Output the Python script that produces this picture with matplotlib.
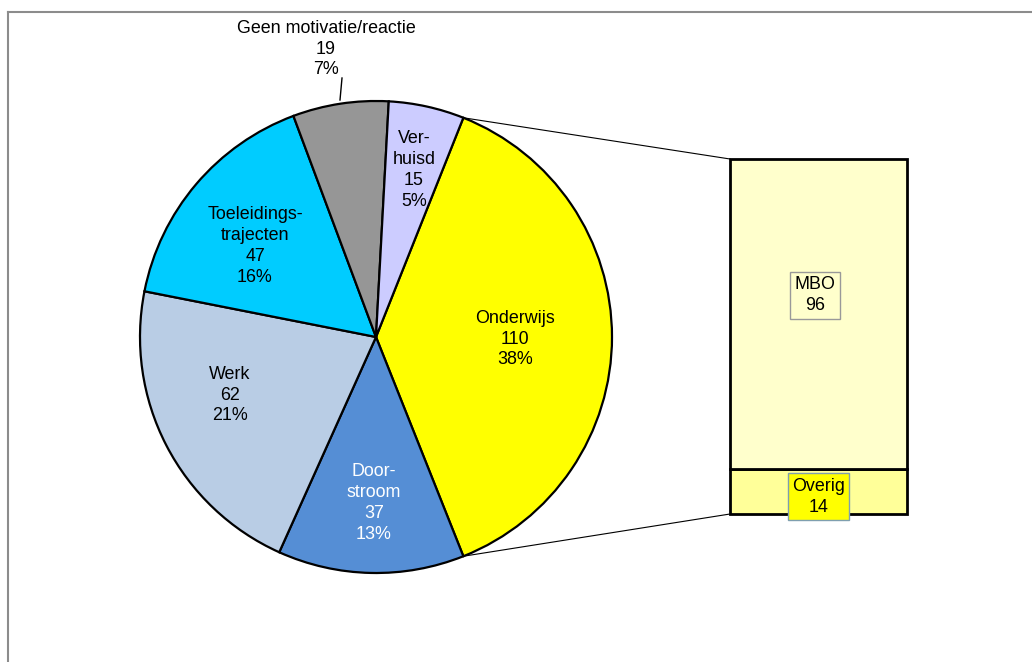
import matplotlib
matplotlib.use("Agg")
import matplotlib.pyplot as plt
from matplotlib.lines import Line2D
import numpy as np

plt.rcParams['font.family'] = ['Liberation Sans', 'DejaVu Sans']

# ---- data ----
pie_labels = ["Onderwijs", "Door-\nstroom", "Werk", "Toeleidings-\ntrajecten",
              "Geen motivatie/reactie", "Ver-\nhuisd"]
pie_values = [110, 37, 62, 47, 19, 15]
pie_colors = ["#FFFF00", "#558ED5", "#B9CDE5", "#00CCFF", "#969696", "#CCCCFF"]
bar_labels = ["Overig", "MBO"]
bar_values = [14, 96]
bar_colors = ["#FFFF99", "#FFFFCC"]

W, H = 1032, 662
FS = 12.9
LS = 1.3
fig = plt.figure(figsize=(W / 100, H / 100), dpi=100)
ax = fig.add_axes([0, 0, 1, 1])

cx, cy, R = 376, H - 337, 236
total = sum(pie_values)
fracs = [v / total for v in pie_values]
start = 180 * fracs[0]
wedges, _ = ax.pie(pie_values, colors=pie_colors, startangle=start, counterclock=False,
                   center=(cx, cy), radius=R, frame=True,
                   wedgeprops=dict(edgecolor="black", linewidth=1.6))
ax.set_xlim(0, W)
ax.set_ylim(0, H)
ax.set_aspect("equal")
ax.axis("off")

# labels
pos = {
    0: (515, 339), 1: (374, 503), 2: (230, 395), 3: (255, 246),
    4: (326, 49), 5: (414, 170),
}
for i, (lab, val) in enumerate(zip(pie_labels, pie_values)):
    pct = round(100 * val / total)
    x, y = pos[i]
    col = "white" if i == 1 else "black"
    ax.text(x, H - y, f"{lab}\n{val}\n{pct}%", ha="center", va="center",
            fontsize=FS, color=col, linespacing=LS)
# leader for Geen motivatie
ax.plot([340, 342], [H - 100, H - 78], color="black", lw=1)

# bar axes
bx0, bx1, by0, by1 = 730, 907, 159, 514
bax = fig.add_axes([bx0 / W, (H - by1) / H, (bx1 - bx0) / W, (by1 - by0) / H])
bottom = 0
for lab, val, c in zip(bar_labels, bar_values, bar_colors):
    bax.bar(0, val, bottom=bottom, width=1, color=c, edgecolor="black", linewidth=2,
            clip_on=False)
    bottom += val
bax.set_xlim(-0.5, 0.5)
bax.set_ylim(0, sum(bar_values))
bax.axis("off")
bax.text(-0.02, 14 + 96 * 0.56, f"{bar_labels[1]}\n{bar_values[1]}", ha="center", va="center",
         fontsize=FS, linespacing=LS,
         bbox=dict(boxstyle="square,pad=0.25", fc="#FFFFCC", ec="#999999", lw=1))
bax.text(0.0, 7 - 1.7, f"{bar_labels[0]}\n{bar_values[0]}", ha="center", va="center",
         fontsize=FS, linespacing=LS, clip_on=False,
         bbox=dict(boxstyle="square,pad=0.25", fc="#FFFF00", ec="#7F9FAF", lw=1))

# connection lines
th1 = np.deg2rad(start)
th2 = np.deg2rad(start - 360 * fracs[0])
p1 = (cx + R * np.cos(th1), cy + R * np.sin(th1))
p2 = (cx + R * np.cos(th2), cy + R * np.sin(th2))
ax.plot([p1[0], bx0], [p1[1], H - by0], color="black", lw=0.8)
ax.plot([p2[0], bx0], [p2[1], H - by1], color="black", lw=0.8)

# outer frame (top and left visible)
fig.add_artist(Line2D([8 / W, 1], [1 - 12 / H, 1 - 12 / H], color="#8C8C8C", lw=1.5))
fig.add_artist(Line2D([8 / W, 8 / W], [0, 1 - 12 / H], color="#8C8C8C", lw=1.5))

fig.savefig("out.png", dpi=100)
